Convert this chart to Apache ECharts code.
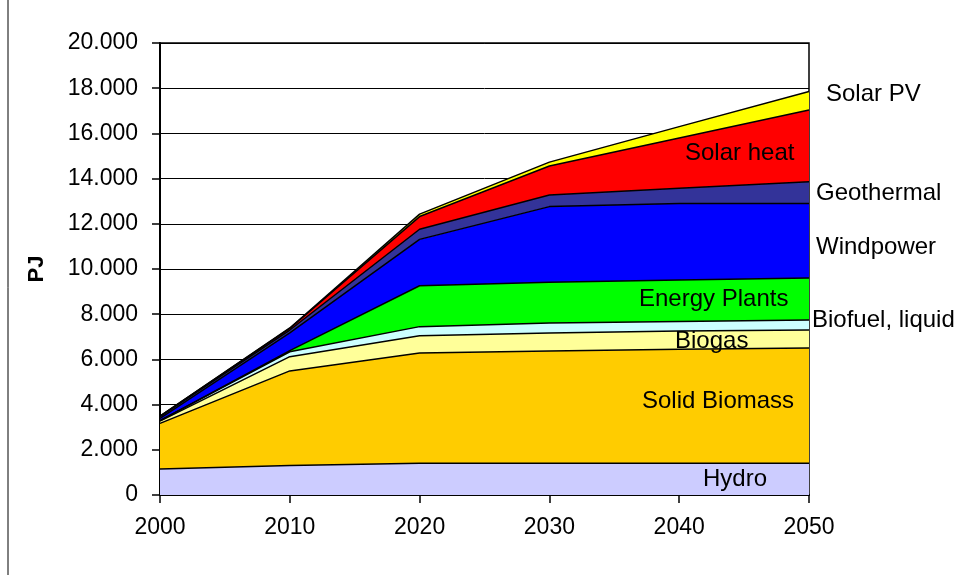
<!DOCTYPE html>
<html>
<head>
<meta charset="utf-8">
<script src="https://cdn.jsdelivr.net/npm/echarts@6/dist/echarts.min.js"></script>
<style>
  html, body { margin: 0; padding: 0; background: #fff; }
  #chart { width: 957px; height: 575px; }
</style>
</head>
<body>
<div id="chart"></div>
<script>
// categories and series values (PJ)
const years = ['2000', '2010', '2020', '2030', '2040', '2050'];
const hydro = [1150, 1300, 1400, 1400, 1400, 1400];
const solidBiomass = [2020, 4190, 4880, 4970, 5050, 5100];
const biogas = [100, 630, 770, 800, 810, 800];
const biofuel = [20, 220, 400, 440, 420, 440];
const energyPlants = [0, 50, 1810, 1800, 1830, 1860];
const windpower = [100, 780, 2050, 3350, 3390, 3300];
const geothermal = [80, 130, 450, 510, 670, 960];
const solarHeat = [20, 70, 560, 1290, 2230, 3180];
const solarPV = [0, 20, 110, 170, 500, 810];

const FONT = 'Liberation Sans, Arial, sans-serif';

const layers = [
  {name: 'Hydro', data: hydro, color: '#CCCCFF'},
  {name: 'Solid Biomass', data: solidBiomass, color: '#FFCC00'},
  {name: 'Biogas', data: biogas, color: '#FFFF99'},
  {name: 'Biofuel, liquid', data: biofuel, color: '#CCFFFF'},
  {name: 'Energy Plants', data: energyPlants, color: '#00FF00'},
  {name: 'Windpower', data: windpower, color: '#0000FF'},
  {name: 'Geothermal', data: geothermal, color: '#333399'},
  {name: 'Solar heat', data: solarHeat, color: '#FF0000'},
  {name: 'Solar PV', data: solarPV, color: '#FFFF00'},
];

// label text placed like in the original (left x, centre y)
const labels = [
  ['Hydro', 703, 479], ['Solid Biomass', 642, 401], ['Biogas', 675, 341],
  ['Energy Plants', 639, 299], ['Solar heat', 685, 153],
  ['Solar PV', 826, 94], ['Geothermal', 816, 193], ['Windpower', 816, 247],
  ['Biofuel, liquid', 812, 320],
];

const chart = echarts.init(document.getElementById('chart'));

function fmt(v) {
  // 20000 -> "20.000"
  if (v === 0) return '0';
  const s = String(v);
  return s.slice(0, s.length - 3) + '.' + s.slice(-3);
}

const option = {
  animation: false,
  grid: {
    left: 160, right: 148, top: 43, bottom: 80,
    show: true, borderColor: '#000', borderWidth: 1.5, backgroundColor: 'transparent'
  },
  xAxis: {
    type: 'category',
    data: years,
    boundaryGap: false,
    axisLine: {lineStyle: {color: '#000', width: 2}},
    axisTick: {show: true, inside: false, length: 8, lineStyle: {color: '#000', width: 1.5}},
    axisLabel: {color: '#000', fontSize: 23, fontFamily: FONT, margin: 21},
    splitLine: {show: false}
  },
  yAxis: {
    type: 'value',
    min: 0, max: 20000, interval: 2000,
    name: 'PJ',
    nameLocation: 'middle',
    nameGap: 112,
    nameRotate: 90,
    nameTextStyle: {color: '#000', fontSize: 22, fontWeight: 'bold', fontFamily: FONT},
    axisLine: {show: true, lineStyle: {color: '#000', width: 2}},
    axisTick: {show: true, length: 8, lineStyle: {color: '#000', width: 1.5}},
    axisLabel: {color: '#000', fontSize: 23, fontFamily: FONT, margin: 22, formatter: fmt},
    splitLine: {show: true, lineStyle: {color: '#000', width: 1}}
  },
  series: layers.map(l => ({
    name: l.name,
    type: 'line',
    stack: 'total',
    data: l.data,
    showSymbol: false,
    symbol: 'none',
    lineStyle: {color: '#000', width: 1.5},
    areaStyle: {color: l.color, opacity: 1},
    z: 2
  })),
  graphic: [
    {type: 'line', shape: {x1: 8, y1: 0, x2: 8, y2: 575}, style: {stroke: '#000', lineWidth: 1}},
    ...labels.map(([t, x, y]) => ({
      type: 'text', x: x, y: y, z: 100,
      style: {text: t, fill: '#000', fontSize: 24, fontFamily: FONT, textVerticalAlign: 'middle', textAlign: 'left'}
    }))
  ]
};

chart.setOption(option);
</script>
</body>
</html>
